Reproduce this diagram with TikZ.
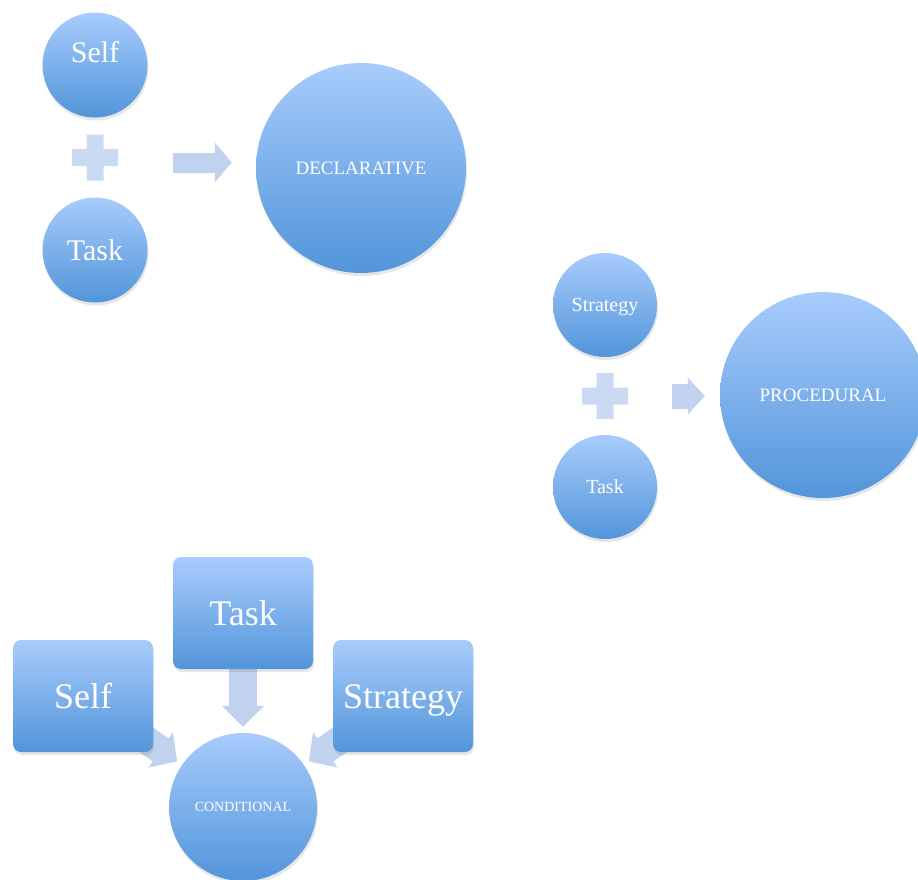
\documentclass[tikz,border=0pt]{standalone}
\usepackage{fontspec}
\setmainfont{Liberation Serif}
\usetikzlibrary{arrows.meta, positioning, calc, shadows, backgrounds}
\definecolor{blueTop}{RGB}{168, 204, 252}
\definecolor{blueBot}{RGB}{82, 149, 218}
\definecolor{paleFill}{RGB}{202, 218, 243}
\definecolor{arrFill}{RGB}{192, 210, 237}

\tikzset{
  txt/.style args={#1/#2}{text=white, font=\fontsize{#1}{#1}\selectfont,
    text height=#2pt, text depth=0pt},
  softshadow/.style={drop shadow={opacity=0.2, shadow xshift=1pt, shadow yshift=-3pt}},
  ball/.style={circle, minimum size=#1, inner sep=0pt, top color=blueTop, bottom color=blueBot,
    softshadow},
  card/.style={rectangle, rounded corners=8pt, minimum width=140pt, minimum height=112pt,
    top color=blueTop, bottom color=blueBot, softshadow},
  crossfill/.style={fill=paleFill},
  blockarr/.style args={#1/#2/#3}{draw=arrFill, line width=#1pt,
    -{Triangle[width=#2pt, length=#3pt, fill=arrFill]}}
}

\begin{document}
\begin{tikzpicture}[x=1pt, y=-1pt]
  \useasboundingbox (0,0) rectangle (918,879);

  % declarative
  \node[ball=105pt, label={[txt=30/20, yshift=13pt]center:Self}] (selfA) at (95,65) {};
  \node[ball=105pt, txt=30/20] (taskA) at (95,250) {Task};
  \coordinate (plusA) at ($(selfA)!0.5!(taskA)$);
  \node[ball=210pt, txt=19/12.5] (decl) at (361,168) {DECLARATIVE};

  % procedural
  \node[ball=104pt, txt=20/13] (stratB) at (605,305) {Strategy};
  \node[ball=104pt, txt=20/13] (taskB) at (605,487) {Task};
  \coordinate (plusB) at ($(stratB)!0.5!(taskB)$);
  \node[ball=206pt, txt=19/12.5] (proc) at (823,395) {PROCEDURAL};

  % conditional
  \node[card, txt=36/24] (selfC) at (83,696) {Self};
  \node[card, txt=36/24] (taskC) at (243,613) {Task};
  \node[card, txt=36/24] (stratC) at (403,696) {Strategy};
  \node[ball=148pt, txt=14/9] (cond) at (243,807) {CONDITIONAL};

  \foreach \p in {plusA, plusB}
    \fill[crossfill] (\p) ++(-23,-8.5) -- ++(14.5,0) -- ++(0,-14.5) -- ++(17,0)
      -- ++(0,14.5) -- ++(14.5,0) -- ++(0,17) -- ++(-14.5,0) -- ++(0,14.5)
      -- ++(-17,0) -- ++(0,-14.5) -- ++(-14.5,0) -- cycle;

  \draw[blockarr=20/39/17, shorten <=78pt, shorten >=24pt]
    ($(plusA)+(0,5)$) -- ($(plusA -| decl.west)+(0,5)$);
  \draw[blockarr=25/36/17, shorten <=67pt, shorten >=15pt] (plusB) -- (plusB -| proc.west);

  \begin{scope}[on background layer]
    \draw[blockarr=28/41/21, shorten >=6pt] (taskC.south) -- (cond);
    \draw[blockarr=28/42/20, shorten >=6pt] (selfC.center) -- (cond);
    \draw[blockarr=28/42/20, shorten >=6pt] (stratC.center) -- (cond);
  \end{scope}
\end{tikzpicture}
\end{document}
